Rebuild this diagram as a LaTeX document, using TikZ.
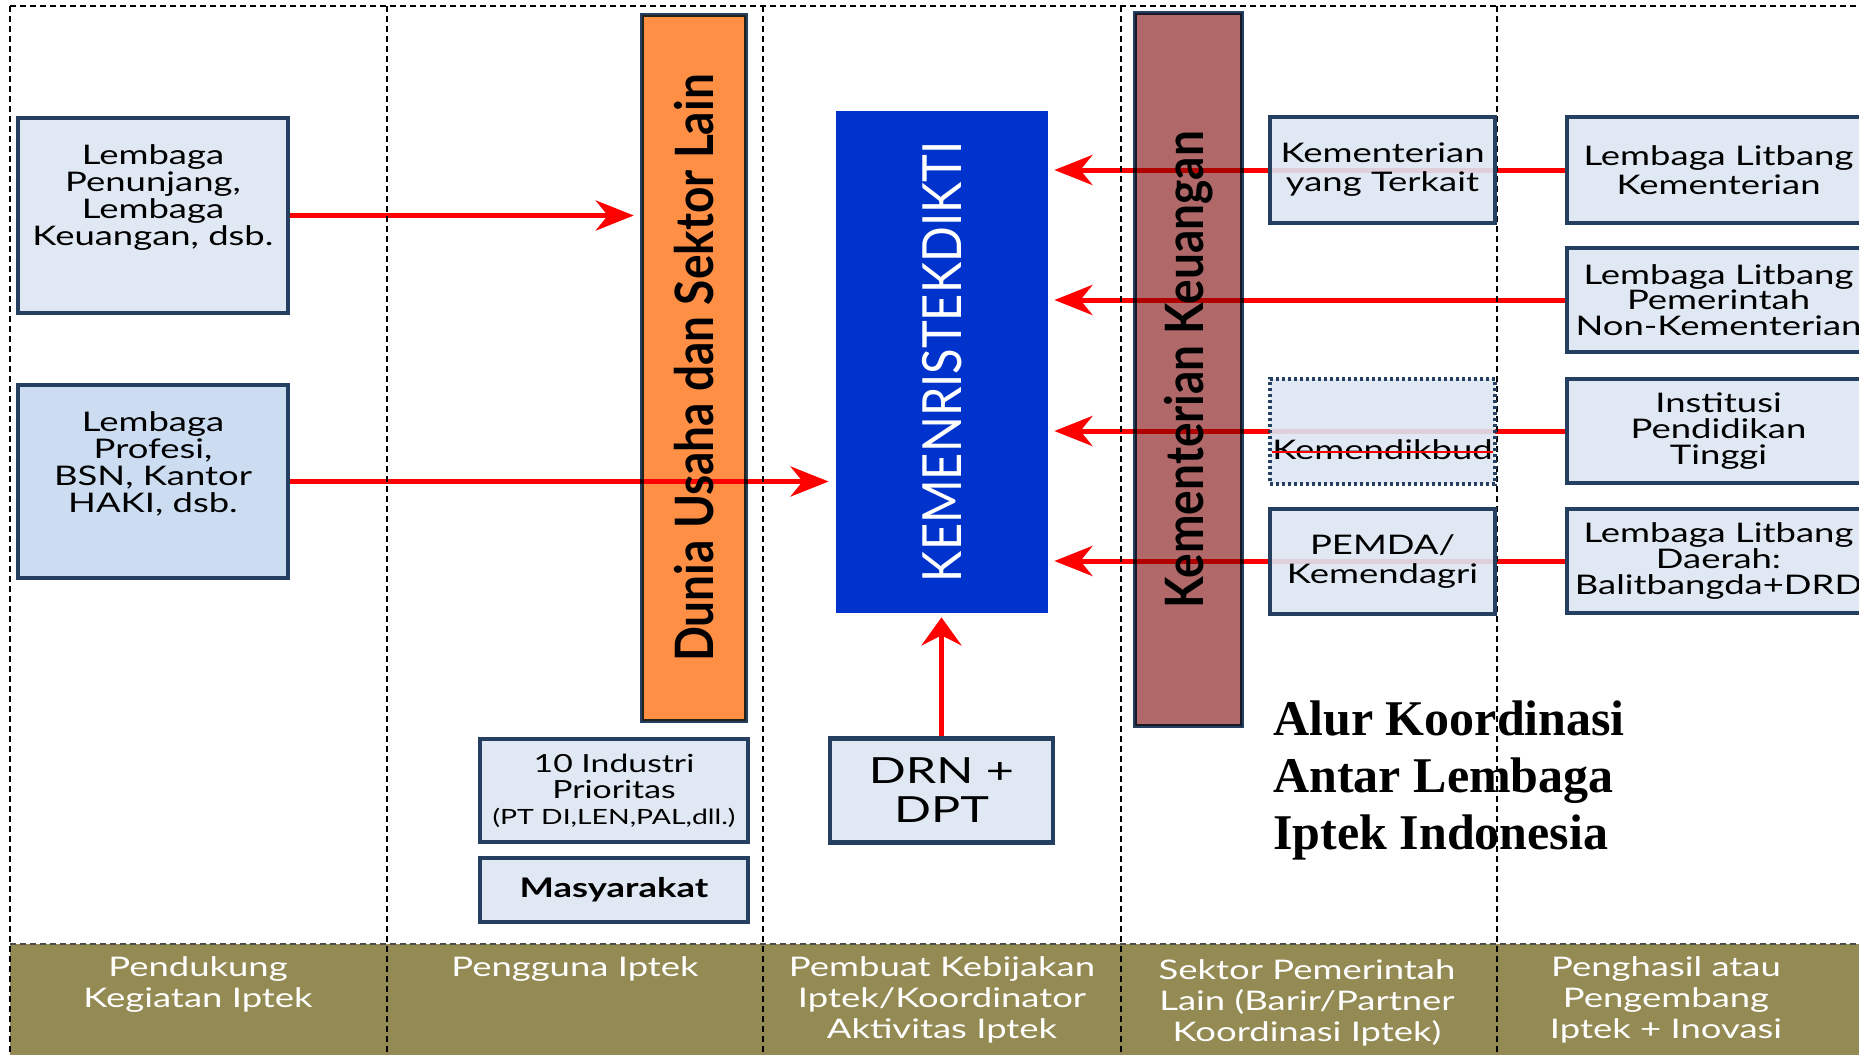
\documentclass[tikz,border=0pt]{standalone}
\usepackage{fontspec}
\usepackage{graphicx}
\setmainfont{Lato}[FakeStretch=1.35]
\newfontfamily\plainsans{Lato}
\newfontfamily\titlefont{Liberation Serif}
\usetikzlibrary{arrows.meta,backgrounds,positioning}

\definecolor{boxfill}{HTML}{DCE6F2}
\definecolor{boxfilldark}{HTML}{C6D9F1}
\definecolor{boxline}{HTML}{243F60}
\definecolor{orangebar}{HTML}{FF8F45}
\definecolor{ristekblue}{HTML}{0033CC}
\definecolor{keuangan}{HTML}{B06868}
\definecolor{olive}{HTML}{948A54}

% rotated bar labels are stretched across the bar
\newcommand\wide[1]{\scalebox{1}[1.15]{#1}}

\begin{document}
\begin{tikzpicture}[x=.5pt, y=-.5pt,
    box/.style={draw=boxline, line width=2.2pt, fill=boxfill, fill opacity=.9, text opacity=1,
      align=center, inner sep=0pt, font=\fontsize{13.5}{14.5}\selectfont},
    bar/.style={draw=boxline, line width=2.2pt, blend mode=multiply, inner sep=0pt},
    flow/.style={red, line width=2.5pt, -{Stealth[length=19pt, width=15pt, inset=6pt]}},
    upflow/.style={red, line width=2.5pt, -{Stealth[length=14pt, width=20pt, inset=5pt]}},
    divider/.style={line width=.6pt, dash pattern=on 3pt off 2pt},
    band/.style={white, align=center, anchor=north, inner sep=0pt, font=\fontsize{13.5}{15.5}\selectfont}]
  \useasboundingbox (0,0) rectangle (1859,1055);

  % bottom band
  \fill[olive] (10,944) rectangle (1859,1055);
  \draw[divider, black!70] (10,944) -- (1859,944);

  % columns
  \draw[divider] (10,6) -- (1859,6);
  \foreach \x in {10,387,763,1121,1497}
    \draw[divider] (\x,6) -- (\x,1055);

  \node[band] (colA) at (198,956) {Pendukung\\Kegiatan Iptek};
  \node[band] (colB) at (575,956) {Pengguna Iptek};
  \node[band] (colC) at (942,956) {Pembuat Kebijakan\\Iptek/Koordinator\\Aktivitas Iptek};
  \node[band] (colD) at (1307,959) {Sektor Pemerintah\\Lain (Barir/Partner\\Koordinasi Iptek)};
  \node[band] (colE) at (1666,956) {Penghasil atau\\Pengembang\\Iptek + Inovasi};

  % left column
  \node[box, minimum width=135pt, minimum height=97.5pt] (lp1) at (153,215.5) {};
  \node[align=center, inner sep=0pt, font=\fontsize{13.5}{13.5}\selectfont] (lp1txt) at (153,198)
    {Lembaga\\Penunjang,\\Lembaga\\Keuangan, dsb.};
  \node[box, fill=boxfilldark, minimum width=135pt, minimum height=96.5pt] (lp2) at (153,481.5) {};
  \node[align=center, inner sep=0pt, font=\fontsize{13.5}{13.5}\selectfont] (lp2txt) at (153,464)
    {Lembaga\\Profesi,\\BSN, Kantor\\HAKI, dsb.};

  % bars
  \node[bar, fill=orangebar, minimum width=52pt, minimum height=353pt] (dunia) at (694,368)
    {\rotatebox{90}{\wide{\plainsans\bfseries\fontsize{23}{23}\selectfont Dunia Usaha dan Sektor Lain}}};
  \node[fill=ristekblue, minimum width=106pt, minimum height=251pt, inner sep=0pt, text=white] (ristek) at (942,362)
    {\rotatebox{90}{\wide{\plainsans\fontsize{23.5}{23.5}\selectfont KEMENRISTEKDIKTI}}};
  \node[bar, fill=keuangan, minimum width=53.5pt, minimum height=356.5pt] (keu) at (1188.5,369.5)
    {\rotatebox{90}{\wide{\plainsans\bfseries\fontsize{23}{23}\selectfont Kementerian Keuangan}}};

  % ministries
  \node[box, minimum width=112.5pt, minimum height=53pt] (kyt) at (1382.5,170) {Kementerian\\yang Terkait};
  \node[box, dash pattern=on 1.5pt off 1.5pt, minimum width=112.5pt, minimum height=52.5pt] (kdb) at (1382.5,431.5) {};
  \node[inner sep=0pt, font=\fontsize{13.5}{14.5}\selectfont] (kdbtxt) at (1382.5,450) {Kemendikbud};
  \draw[red, line width=.8pt] ([yshift=-1pt]kdbtxt.west) -- ([yshift=-1pt]kdbtxt.east);
  \node[box, minimum width=112.5pt, minimum height=52.5pt] (pemda) at (1382.5,561.5) {PEMDA/\\Kemendagri};

  % research institutions
  \node[box, minimum width=151.5pt, minimum height=53pt] (lk) at (1718.5,170) {Lembaga Litbang\\Kementerian};
  \node[box, minimum width=151.5pt, minimum height=52pt, font=\fontsize{13.5}{12.8}\selectfont] (lpnk) at (1718.5,300)
    {Lembaga Litbang\\Pemerintah\\Non-Kementerian};
  \node[box, minimum width=151.5pt, minimum height=52pt, font=\fontsize{13.5}{12.8}\selectfont] (ipt) at (1718.5,431)
    {Institusi\\Pendidikan\\Tinggi};
  \node[box, minimum width=151.5pt, minimum height=52pt, font=\fontsize{13.5}{12.8}\selectfont] (lld) at (1718.5,561)
    {Lembaga Litbang\\Daerah:\\Balitbangda+DRD};

  % users
  \node[box, minimum width=134pt, minimum height=51.5pt, font=\fontsize{12.5}{13}\selectfont] (ind) at (614,790.5)
    {10 Industri\\Prioritas\\{\fontsize{10.5}{13}\selectfont(PT DI,LEN,PAL,dll.)}};
  \node[box, minimum width=134pt, minimum height=32pt, font=\bfseries\fontsize{13.5}{14}\selectfont] (masy) at (614,890) {Masyarakat};
  \node[box, minimum width=111.5pt, minimum height=52pt, font=\fontsize{18}{19.5}\selectfont] (drn) at (941.5,790.5) {DRN +\\DPT};

  \node[anchor=north west, inner sep=0pt, align=left, font=\titlefont\bfseries\fontsize{25}{28.7}\selectfont] (title)
    at (1273,700) {Alur Koordinasi\\Antar Lembaga\\Iptek Indonesia};

  % coordination flows, under the boxes
  \begin{scope}[on background layer]
    \draw[flow] (lp1.east) -- ([xshift=-3pt]lp1.east -| dunia.west);
    \draw[flow] (lp2.east) -- ([xshift=-3.5pt]lp2.east -| ristek.west);
    \draw[upflow] (drn.north) -- ([yshift=-2pt]drn.north |- ristek.south);
    \foreach \src in {lk,lpnk,ipt,lld}
      \draw[flow] (\src.west) -- ([xshift=3pt]\src.west -| ristek.east);
  \end{scope}
\end{tikzpicture}
\end{document}
